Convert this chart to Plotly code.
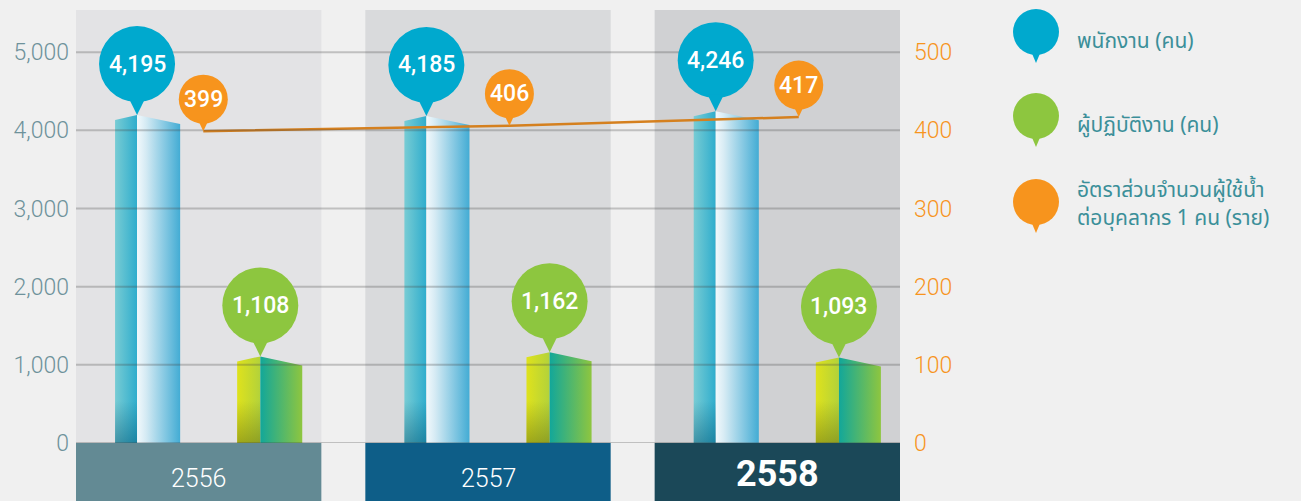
import plotly.graph_objects as go

YEARS = ["2556", "2557", "2558"]
STAFF = [4195, 4185, 4246]       # พนักงาน (คน)
WORKERS = [1108, 1162, 1093]     # ผู้ปฏิบัติงาน (คน)
RATIO = [399, 406, 417]          # อัตราส่วนจำนวนผู้ใช้น้ำต่อบุคลากร 1 คน (ราย)
LEFT_TICKS = [0, 1000, 2000, 3000, 4000, 5000]
RIGHT_TICKS = [0, 100, 200, 300, 400, 500]
LEGEND_NAMES = [
    ["พนักงาน (คน)"],
    ["ผู้ปฏิบัติงาน (คน)"],
    ["อัตราส่วนจำนวนผู้ใช้น้ำ", "ต่อบุคลากร 1 คน (ราย)"],
]

# page / plot geometry
W, H = 1301, 501
ML, MR, MT, MB = 76, 401, 10, 58
PLOT_W, PLOT_H = W - ML - MR, H - MT - MB
X_RANGE = [-0.424, 2.424]
Y_MAX, Y2_MAX = 5540, 554
UNIT_PX = PLOT_W / (X_RANGE[1] - X_RANGE[0])
PX_Y = Y_MAX / PLOT_H

BLUE, GREEN, ORANGE = "#00a9ce", "#8dc63f", "#f7941d"
COL_BG = ["#e3e3e5", "#d9dadc", "#d0d1d3"]
YEAR_BG = ["#638a94", "#0e5e88", "#1b4858"]
ORANGE_OFFSET = [0.016, 0.074, 0.074]
FONT = "Roboto"


def _face(x0, x1, top0, top1, colors, gtype="horizontal"):
    """One filled face of a pseudo-3D bar."""
    return go.Scatter(
        x=[x0, x1, x1, x0, x0],
        y=[0, 0, top1, top0, 0],
        mode="lines",
        fill="toself",
        fillgradient=dict(type=gtype, colorscale=colors),
        line=dict(width=0),
        hoverinfo="skip",
        showlegend=False,
    )


def _bar(i, value, left, mid, right, left_cols, right_cols, shade):
    traces = [
        _face(i + left, i + mid, value - 5 * PX_Y, value, left_cols),
        _face(i + mid, i + right, value, value - 9 * PX_Y, right_cols),
        # darker foot on the left face
        _face(i + left, i + mid, 42 * PX_Y, 42 * PX_Y,
              [[0, shade], [1, shade.rsplit(",", 1)[0] + ",0)"]], "vertical"),
    ]
    return traces


def _pin(x, y, radius, height, color, xref="x", yref="y"):
    """Map-pin marker: circle plus a small pointer ending at (x, y)."""
    base = height - radius + 4
    half = radius * 0.22
    common = dict(xref=xref, yref=yref, xsizemode="pixel", ysizemode="pixel",
                  xanchor=x, yanchor=y, fillcolor=color, line_width=0,
                  layer="above")
    return [
        dict(type="circle", x0=-radius, x1=radius,
             y0=height - radius, y1=height + radius, **common),
        dict(type="path", path=f"M {-half},{base} L {half},{base} L 0,0 Z",
             **common),
    ]


fig = go.Figure()
shapes, annotations = [], []

for i, year in enumerate(YEARS):
    # grey column behind each year
    shapes.append(dict(type="rect", xref="x", yref="paper", x0=i - 0.424,
                       x1=i + 0.424, y0=0, y1=1, fillcolor=COL_BG[i],
                       line_width=0, layer="below"))
    # year box under the axis
    shapes.append(dict(type="rect", xref="x", yref="paper", x0=i - 0.424,
                       x1=i + 0.424, y0=-0.2, y1=0, fillcolor=YEAR_BG[i],
                       line_width=0, layer="above"))
    last = i == len(YEARS) - 1
    annotations.append(dict(
        x=i, y=-(35 if not last else 31) / PLOT_H, xref="x", yref="paper",
        text=year, showarrow=False, yanchor="middle",
        font=dict(family=FONT, size=36 if last else 25, color="white",
                  weight=700 if last else 300)))

    for tr in _bar(i, STAFF[i], -0.289, -0.213, -0.064,
                   [[0, "#78ccd4"], [1, "#2fadcd"]],
                   [[0, "#f2f9fc"], [0.2, "#d6ebf4"], [1, "#43acd4"]],
                   "rgba(0,80,110,0.45)"):
        fig.add_trace(tr)
    for tr in _bar(i, WORKERS[i], 0.133, 0.213, 0.358,
                   [[0, "#dfe21c"], [1, "#b3d23a"]],
                   [[0, "#12a79a"], [1, "#8ec63f"]],
                   "rgba(110,120,20,0.55)"):
        fig.add_trace(tr)

fig.add_trace(go.Scatter(
    x=[i + ORANGE_OFFSET[i] for i in range(len(YEARS))], y=RATIO,
    yaxis="y2", mode="lines", line=dict(color="#d5801f", width=2.5),
    hoverinfo="skip", showlegend=False))

# gridlines drawn over the bars, as in the original artwork
for t in LEFT_TICKS:
    shapes.append(dict(type="line", xref="paper", yref="y", x0=0, x1=1,
                       y0=t, y1=t, line=dict(color="rgba(70,70,70,0.28)",
                                             width=2), layer="above"))

label_font = dict(family=FONT, size=23, color="white", weight=500)
for i in range(len(YEARS)):
    shapes += _pin(i - 0.213, STAFF[i], 38, 51, BLUE)
    annotations.append(dict(x=i - 0.213, y=STAFF[i], yshift=51, text=f"{STAFF[i]:,}",
                            showarrow=False, font=label_font))
    shapes += _pin(i + 0.213, WORKERS[i], 38, 51, GREEN)
    annotations.append(dict(x=i + 0.213, y=WORKERS[i], yshift=51,
                            text=f"{WORKERS[i]:,}", showarrow=False,
                            font=label_font))
    xo = i + ORANGE_OFFSET[i]
    shapes += _pin(xo, RATIO[i], 24.5, 32, ORANGE, yref="y2")
    annotations.append(dict(x=xo, y=RATIO[i], yref="y2", yshift=32,
                            text=str(RATIO[i]), showarrow=False,
                            font=label_font))

# custom legend on the right
legend_x = (1036 - ML) / PLOT_W
text_x = (1075 - ML) / PLOT_W
legend_font = dict(family="Noto Sans Thai, Noto Sans, sans-serif", size=21,
                   color="#3b8f99")
for lines, color, tip_px, text_px in zip(
        LEGEND_NAMES, [BLUE, GREEN, ORANGE], [63, 147, 233], [42, 125, 190]):
    shapes += _pin(legend_x, (H - MB - tip_px) / PLOT_H, 23, 31, color,
                   xref="paper", yref="paper")
    for k, line in enumerate(lines):
        annotations.append(dict(
            x=text_x, y=(H - MB - text_px - 29 * k) / PLOT_H, xref="paper",
            yref="paper", xanchor="left", yanchor="middle", text=line,
            showarrow=False, font=legend_font))

fig.update_layout(
    width=W, height=H,
    margin=dict(l=ML, r=MR, t=MT, b=MB),
    paper_bgcolor="#f0f0f0",
    plot_bgcolor="#f0f0f0",
    showlegend=False,
    shapes=shapes,
    annotations=annotations,
    xaxis=dict(range=X_RANGE, showgrid=False, zeroline=False,
               showticklabels=False, fixedrange=True),
    yaxis=dict(range=[0, Y_MAX], tickvals=LEFT_TICKS, tickformat=",",
               showgrid=False, zeroline=False, ticklabelstandoff=6,
               tickfont=dict(family=FONT, size=23, color="#6e929b",
                             weight=300)),
    yaxis2=dict(range=[0, Y2_MAX], tickvals=RIGHT_TICKS, overlaying="y",
                side="right", showgrid=False, zeroline=False,
                ticklabelstandoff=13,
                tickfont=dict(family=FONT, size=23, color=ORANGE,
                              weight=300)),
)

# drop the browser's default page margin so the figure sits at the corner
fig.write_html(
    "out.html",
    config={"displayModeBar": False},
    post_script="document.body.style.margin='0';"
                "document.body.style.background='#f0f0f0';",
)
